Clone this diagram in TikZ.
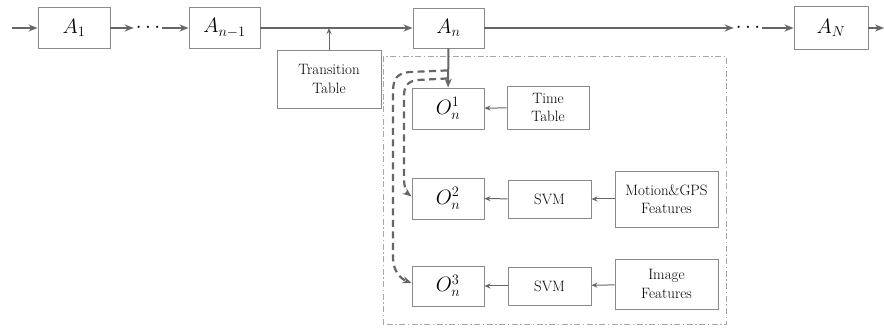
\documentclass[tikz,border=0pt]{standalone}
\usetikzlibrary{arrows.meta,calc}
\definecolor{lineg}{HTML}{666666}
\definecolor{boxg}{HTML}{8A8A8A}
\definecolor{dashg}{HTML}{A8A8A8}
\begin{document}
\begin{tikzpicture}[x=1pt,y=1pt,
  box/.style={draw=boxg,line width=0.9pt,inner sep=0pt,align=center,text=black},
  mbox/.style={box,font=\fontsize{20}{22}\selectfont},
  obox/.style={box,font=\fontsize{22}{24}\selectfont},
  tbox/.style={box,font=\rmfamily\fontsize{15}{18.5}\selectfont},
  main/.style={draw=lineg,line width=2pt,-{Stealth[length=9pt,width=7pt]}},
  thin/.style={draw=lineg,line width=1pt,-{Stealth[length=6pt,width=5pt]}},
  dsh/.style={draw=lineg,line width=2.2pt,dash pattern=on 7pt off 4.5pt,-{Stealth[length=9pt,width=7pt]}},
  dots/.style={inner sep=2pt,font=\bfseries\fontsize{20}{22}\selectfont,text=black}]
\useasboundingbox (0,0) rectangle (884,328);
% main chain
\node[mbox,minimum width=72pt,minimum height=41pt] (A1) at (74,300) {$A_1$};
\node[mbox,minimum width=71pt,minimum height=41pt] (Am) at (224.5,300) {$A_{n-1}$};
\node[mbox,minimum width=71pt,minimum height=40pt] (An) at (448.5,300) {$A_n$};
\node[mbox,minimum width=74pt,minimum height=43pt] (AN) at (831,300) {$A_N$};
\node[dots,minimum width=24pt] (d1) at (148,300) {$\cdots$};
\node[dots,minimum width=22pt] (d2) at (748,300) {$\cdots$};
\coordinate (s) at (12,300);
\coordinate (e) at (884,300);
\draw[main] (s) -- (A1);
\draw[main] (A1) -- (d1);
\draw[main] (d1) -- (Am);
\draw[main] (Am) -- (An);
\draw[main] (An) -- (d2);
\draw[main] (d2) -- (AN);
\draw[main] (AN) -- (e);
% transition table
\node[tbox,minimum width=104pt,minimum height=58pt] (TT) at (329,249) {Transition\\Table};
\draw[thin] (TT.north) -- (TT.north |- Am.east);
% observation frame
\draw[dashg,line width=1pt,dash pattern=on 6pt off 2.5pt on 1.5pt off 2.5pt] (383,3) rectangle (726,271);
\node[obox,minimum width=72pt,minimum height=41pt] (O1) at (448,219.5) {$O_n^1$};
\node[obox,minimum width=72pt,minimum height=41pt] (O2) at (448,129.5) {$O_n^2$};
\node[obox,minimum width=72pt,minimum height=40pt] (O3) at (448,42) {$O_n^3$};
\node[tbox,minimum width=82pt,minimum height=43pt] (TiT) at (548,220.5) {Time\\Table};
\node[tbox,minimum width=83pt,minimum height=38pt] (S1) at (549.5,129) {SVM};
\node[tbox,minimum width=83pt,minimum height=38pt] (S2) at (549.5,42) {SVM};
\node[tbox,minimum width=103pt,minimum height=56pt] (MG) at (666.5,129) {Motion\&GPS\\Features};
\node[tbox,minimum width=103pt,minimum height=50pt] (IF) at (666.5,44) {Image\\Features};
\draw[thin] (TiT) -- (O1);
\draw[thin] (S1) -- (O2);
\draw[thin] (MG) -- (S1);
\draw[thin] (S2) -- (O3);
\draw[thin] (IF) -- (S2);
\draw[main] (An) -- (O1);
% dashed branches
\draw[dsh] ($(An.south)+(-1,-22)$) -- (410,256) .. controls (397,255) and (393,249) .. (393,236)
  -- (393,70) .. controls (393,57) and (401,49) .. ($(O3.west)+(0,3)$);
\draw[dsh] ($(An.south)+(-1,-30)$) -- (418,248) .. controls (408,247) and (404,242) .. (404,232)
  -- (404,150) .. controls (404,140) and (407,135) .. ($(O2.west)+(0,2)$);
\end{tikzpicture}
\end{document}
